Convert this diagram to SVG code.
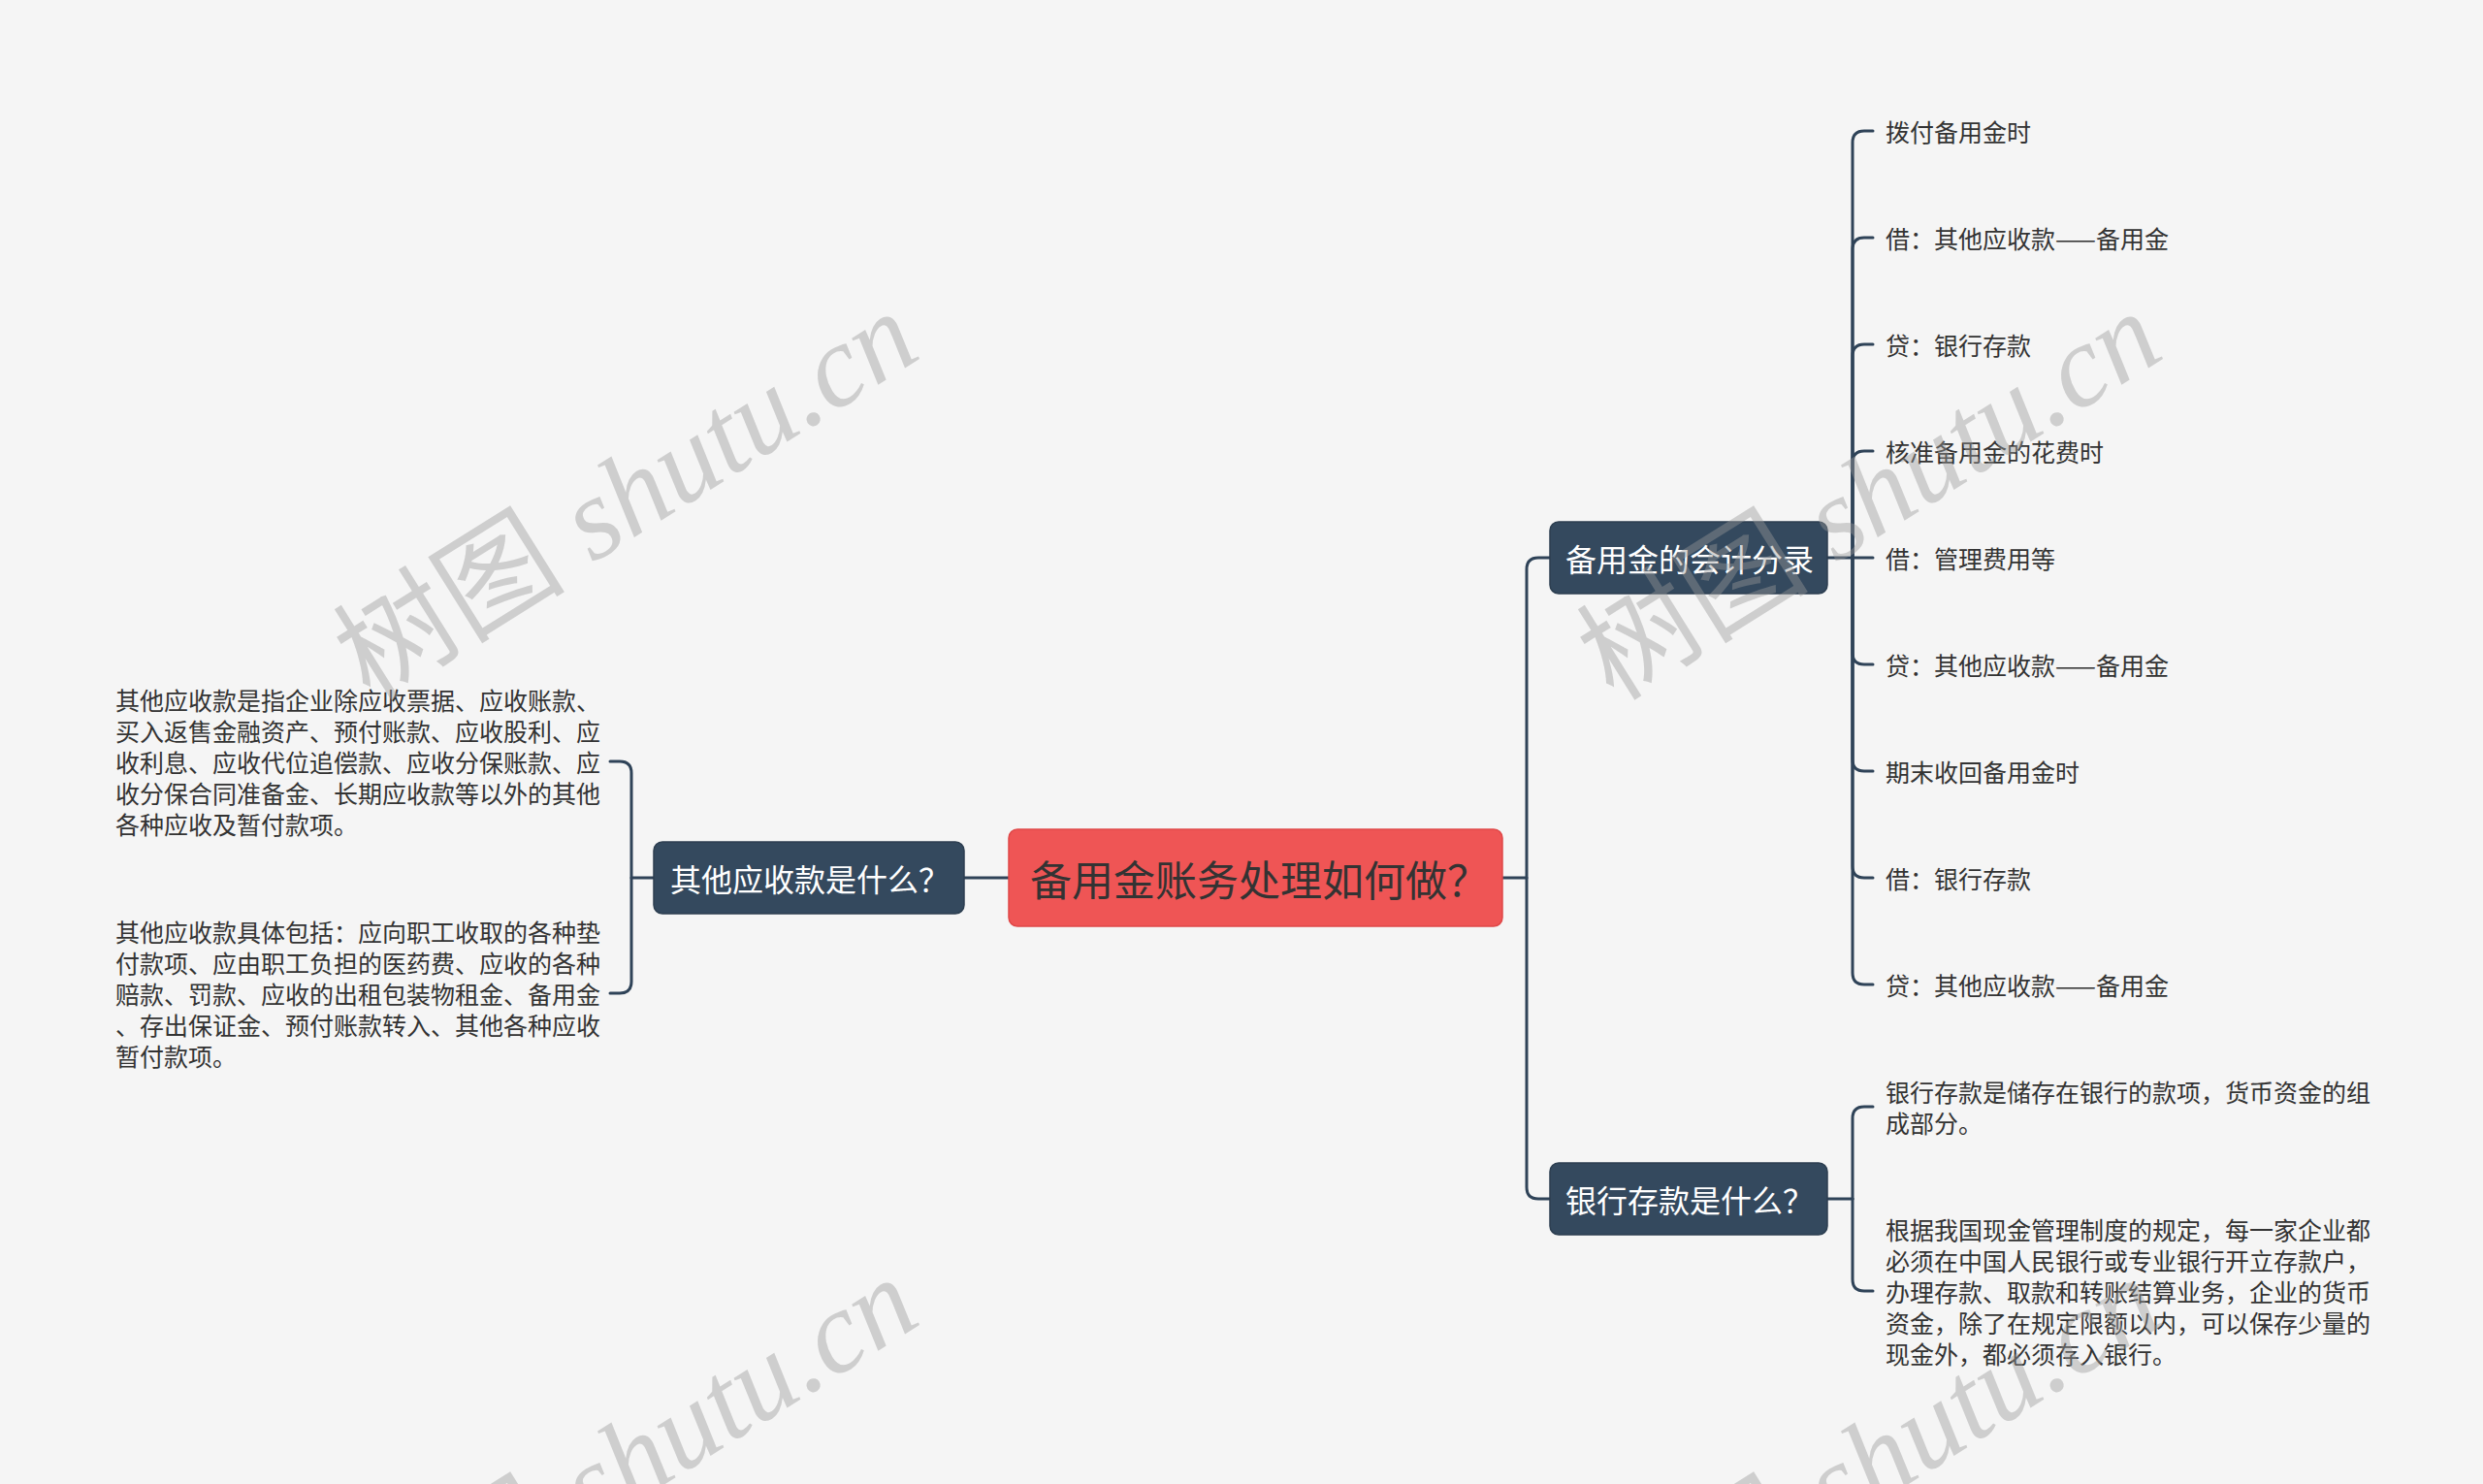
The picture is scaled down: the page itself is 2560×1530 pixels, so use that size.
<svg xmlns="http://www.w3.org/2000/svg" width="2560" height="1530" viewBox="0 0 2560 1530">
<style>
.bg{fill:#f5f5f5}
.line{fill:none;stroke:#2f4358;stroke-width:3;stroke-linecap:round}
.dark rect{fill:#34495e;stroke:#2c3e50;stroke-width:1.5}
.dark text{fill:#ffffff;font-family:"Noto Sans CJK SC",sans-serif;font-size:32px;dominant-baseline:central}
.root rect{fill:#ef5555;stroke:#e04848;stroke-width:1.5}
.root text{fill:#333333;font-family:"Noto Sans CJK SC",sans-serif;font-size:43px;dominant-baseline:central}
.leaf text{fill:#333333;font-family:"Noto Sans CJK SC",sans-serif;font-size:25px;dominant-baseline:central}
.wm{fill:#999999;fill-opacity:0.42;font-family:"Liberation Serif","Noto Sans CJK SC",serif;font-size:120px}
.wm tspan.en{font-style:italic}
</style>
<rect class="bg" x="0" y="0" width="2560" height="1530"/>

<g id="connectors">
<path class="line" d="M1040,905 L994,905"/>
<path class="line" d="M674,905 L651,905"/>
<path class="line" d="M629,785 L639,785 Q651,785 651,797 L651,1012 Q651,1024 639,1024 L629,1024"/>
<path class="line" d="M1549,905 L1574,905"/>
<path class="line" d="M1598,575 L1586,575 Q1574,575 1574,587 L1574,1224 Q1574,1236 1586,1236 L1598,1236"/>
<path class="line" d="M1884,575 L1931,575"/>
<path class="line" d="M1910,575 L1910,147 Q1910,135 1922,135 L1931,135"/>
<path class="line" d="M1910,575 L1910,257 Q1910,245 1922,245 L1931,245"/>
<path class="line" d="M1910,575 L1910,367 Q1910,355 1922,355 L1931,355"/>
<path class="line" d="M1910,575 L1910,477 Q1910,465 1922,465 L1931,465"/>
<path class="line" d="M1910,575 L1910,673 Q1910,685 1922,685 L1931,685"/>
<path class="line" d="M1910,575 L1910,783 Q1910,795 1922,795 L1931,795"/>
<path class="line" d="M1910,575 L1910,893 Q1910,905 1922,905 L1931,905"/>
<path class="line" d="M1910,575 L1910,1003 Q1910,1015 1922,1015 L1931,1015"/>
<path class="line" d="M1884,1236 L1910,1236"/>
<path class="line" d="M1910,1236 L1910,1153 Q1910,1141 1922,1141 L1931,1141"/>
<path class="line" d="M1910,1236 L1910,1319 Q1910,1331 1922,1331 L1931,1331"/>
</g>

<g id="root" class="root">
<rect x="1040" y="855" width="509" height="100" rx="9"/>
<text x="1062" y="905">备用金账务处理如何做？</text>
</g>

<g id="n-other" class="dark">
<rect x="674" y="868" width="320" height="74" rx="9"/>
<text x="691" y="905">其他应收款是什么？</text>
</g>
<g id="n-other-1" class="leaf">
<text x="119" y="721">其他应收款是指企业除应收票据、应收账款、</text>
<text x="119" y="753">买入返售金融资产、预付账款、应收股利、应</text>
<text x="119" y="785">收利息、应收代位追偿款、应收分保账款、应</text>
<text x="119" y="817">收分保合同准备金、长期应收款等以外的其他</text>
<text x="119" y="849">各种应收及暂付款项。</text>
</g>
<g id="n-other-2" class="leaf">
<text x="119" y="960">其他应收款具体包括：应向职工收取的各种垫</text>
<text x="119" y="992">付款项、应由职工负担的医药费、应收的各种</text>
<text x="119" y="1024">赔款、罚款、应收的出租包装物租金、备用金</text>
<text x="119" y="1056">、存出保证金、预付账款转入、其他各种应收</text>
<text x="119" y="1088">暂付款项。</text>
</g>

<g id="n-entry" class="dark">
<rect x="1598" y="538" width="286" height="74" rx="9"/>
<text x="1614" y="575">备用金的会计分录</text>
</g>
<g id="leaf-1" class="leaf"><text x="1944" y="135">拨付备用金时</text></g>
<g id="leaf-2" class="leaf"><text x="1944" y="245">借：其他应收款——备用金</text></g>
<g id="leaf-3" class="leaf"><text x="1944" y="355">贷：银行存款</text></g>
<g id="leaf-4" class="leaf"><text x="1944" y="465">核准备用金的花费时</text></g>
<g id="leaf-5" class="leaf"><text x="1944" y="575">借：管理费用等</text></g>
<g id="leaf-6" class="leaf"><text x="1944" y="685">贷：其他应收款——备用金</text></g>
<g id="leaf-7" class="leaf"><text x="1944" y="795">期末收回备用金时</text></g>
<g id="leaf-8" class="leaf"><text x="1944" y="905">借：银行存款</text></g>
<g id="leaf-9" class="leaf"><text x="1944" y="1015">贷：其他应收款——备用金</text></g>

<g id="n-bank" class="dark">
<rect x="1598" y="1199" width="286" height="74" rx="9"/>
<text x="1614" y="1236">银行存款是什么？</text>
</g>
<g id="n-bank-1" class="leaf">
<text x="1944" y="1125">银行存款是储存在银行的款项，货币资金的组</text>
<text x="1944" y="1157">成部分。</text>
</g>
<g id="n-bank-2" class="leaf">
<text x="1944" y="1267">根据我国现金管理制度的规定，每一家企业都</text>
<text x="1944" y="1299">必须在中国人民银行或专业银行开立存款户，</text>
<text x="1944" y="1331">办理存款、取款和转账结算业务，企业的货币</text>
<text x="1944" y="1363">资金，除了在规定限额以内，可以保存少量的</text>
<text x="1944" y="1395">现金外，都必须存入银行。</text>
</g>

<g id="watermarks">
<text class="wm" transform="translate(645,510) rotate(-32)" text-anchor="middle" y="42">树图 <tspan class="en">shutu.cn</tspan></text>
<text class="wm" transform="translate(1927,510) rotate(-32)" text-anchor="middle" y="42">树图 <tspan class="en">shutu.cn</tspan></text>
<text class="wm" transform="translate(645,1506) rotate(-32)" text-anchor="middle" y="42">树图 <tspan class="en">shutu.cn</tspan></text>
<text class="wm" transform="translate(1927,1506) rotate(-32)" text-anchor="middle" y="42">树图 <tspan class="en">shutu.cn</tspan></text>
</g>
</svg>
